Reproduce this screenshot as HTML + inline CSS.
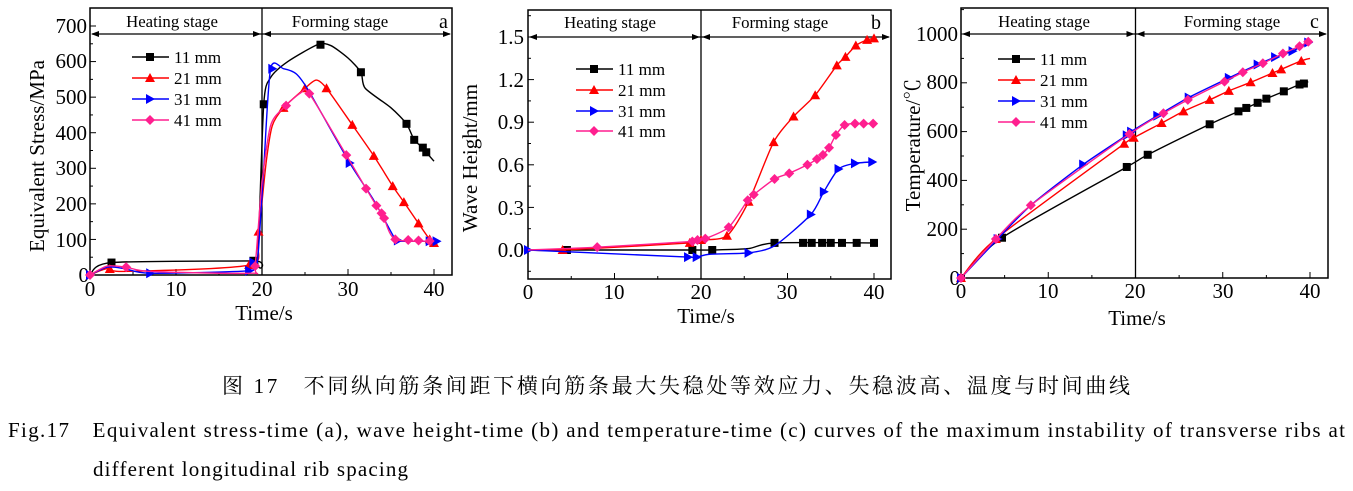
<!DOCTYPE html>
<html><head><meta charset="utf-8"><style>
body{margin:0;background:#fff;width:1353px;height:486px;overflow:hidden}
svg text{font-family:"Liberation Serif","Noto Serif CJK SC",serif}
</style></head><body>
<svg id="s" width="1353" height="486" xmlns="http://www.w3.org/2000/svg">
<g font-size="21" fill="#000">
<text x="90" y="296" text-anchor="middle">0</text><text x="176" y="296" text-anchor="middle">10</text><text x="262" y="296" text-anchor="middle">20</text><text x="348" y="296" text-anchor="middle">30</text><text x="434" y="296" text-anchor="middle">40</text>
<g text-anchor="end"><text x="89" y="282">0</text><text x="87" y="247">100</text><text x="87" y="211">200</text><text x="87" y="175">300</text><text x="87" y="140">400</text><text x="87" y="104">500</text><text x="87" y="68">600</text><text x="87" y="33">700</text></g>
<text x="264" y="320" text-anchor="middle">Time/s</text>
<text transform="translate(44,156) rotate(-90)" text-anchor="middle">Equivalent Stress/MPa</text>
<text x="528" y="299" text-anchor="middle">0</text><text x="614" y="299" text-anchor="middle">10</text><text x="701" y="299" text-anchor="middle">20</text><text x="787" y="299" text-anchor="middle">30</text><text x="874" y="299" text-anchor="middle">40</text>
<g text-anchor="end"><text x="524" y="257">0.0</text><text x="524" y="215">0.3</text><text x="524" y="172">0.6</text><text x="524" y="129">0.9</text><text x="524" y="87">1.2</text><text x="524" y="44">1.5</text></g>
<text x="706" y="323" text-anchor="middle">Time/s</text>
<text transform="translate(477,158) rotate(-90)" text-anchor="middle">Wave Height/mm</text>
<text x="961" y="298" text-anchor="middle">0</text><text x="1048" y="298" text-anchor="middle">10</text><text x="1135" y="298" text-anchor="middle">20</text><text x="1223" y="298" text-anchor="middle">30</text><text x="1310" y="298" text-anchor="middle">40</text>
<g text-anchor="end"><text x="960" y="285">0</text><text x="958" y="236">200</text><text x="958" y="187">400</text><text x="958" y="138">600</text><text x="958" y="89">800</text><text x="958" y="41">1000</text></g>
<text x="1137" y="325" text-anchor="middle">Time/s</text>
<text transform="translate(920,145) rotate(-90)" text-anchor="middle">Temperature/℃</text>
</g>
<g font-size="16.8">
<text x="172" y="27" text-anchor="middle">Heating stage</text><text x="340" y="27" text-anchor="middle">Forming stage</text><text x="439" y="28" font-size="20">a</text>
<text x="610" y="28" text-anchor="middle">Heating stage</text><text x="780" y="28" text-anchor="middle">Forming stage</text><text x="871" y="29" font-size="20">b</text>
<text x="1044" y="27" text-anchor="middle">Heating stage</text><text x="1232" y="27" text-anchor="middle">Forming stage</text><text x="1310" y="28" font-size="20">c</text>
</g>
<g font-size="17">
<text x="174" y="63">11 mm</text><text x="174" y="84">21 mm</text><text x="174" y="105">31 mm</text><text x="174" y="126">41 mm</text>
<text x="618" y="75">11 mm</text><text x="618" y="96">21 mm</text><text x="618" y="117">31 mm</text><text x="618" y="137">41 mm</text>
<text x="1040" y="65">11 mm</text><text x="1040" y="86">21 mm</text><text x="1040" y="107">31 mm</text><text x="1040" y="128">41 mm</text>
</g>
<g font-size="21">
<text x="222" y="393" textLength="908" lengthAdjust="spacing">图 17　不同纵向筋条间距下横向筋条最大失稳处等效应力、失稳波高、温度与时间曲线</text>
<text x="8" y="437" textLength="1337" lengthAdjust="spacing">Fig.17　Equivalent stress-time (a), wave height-time (b) and temperature-time (c) curves of the maximum instability of transverse ribs at</text>
<text x="93" y="476" textLength="315" lengthAdjust="spacing">different longitudinal rib spacing</text>
</g>
</svg>
<script>
const S=document.getElementById('s'),NS='http://www.w3.org/2000/svg';
function el(t,a){const e=document.createElementNS(NS,t);for(const k in a)e.setAttribute(k,a[k]);S.appendChild(e);return e}
const C=['#000','#f00','#00f','#ff1f8f'];
function mk(type,x,y,c){const r=4;
 if(type==0)el('rect',{x:x-r,y:y-r,width:2*r,height:2*r,fill:c});
 else if(type==1)el('polygon',{points:`${x},${y-r-1} ${x-r-1},${y+r} ${x+r+1},${y+r}`,fill:c});
 else if(type==2)el('polygon',{points:`${x+r+1},${y} ${x-r},${y-r-1} ${x-r},${y+r+1}`,fill:c});
 else el('polygon',{points:`${x},${y-r-1} ${x+r+1},${y} ${x},${y+r+1} ${x-r-1},${y}`,fill:c});}
function smooth(p){let d=`M${p[0][0]},${p[0][1]}`;for(let i=0;i<p.length-1;i++){const p0=p[i-1]||p[i],p1=p[i],p2=p[i+1],p3=p[i+2]||p2;
 const k=8;d+=` C${p1[0]+(p2[0]-p0[0])/k},${p1[1]+(p2[1]-p0[1])/k} ${p2[0]-(p3[0]-p1[0])/k},${p2[1]-(p3[1]-p1[1])/k} ${p2[0]},${p2[1]}`;}return d}
function chart(o){
 const X=t=>o.x0+t*o.sx,Y=v=>o.y0-v*o.sy;
 el('rect',{x:o.L,y:o.T,width:o.R-o.L,height:o.B-o.T,fill:'none',stroke:'#000','stroke-width':1.5});
 const dx=X(20);el('line',{x1:dx,y1:o.T,x2:dx,y2:o.B,stroke:'#000','stroke-width':1.3});
 el('line',{x1:o.L+2,y1:o.ay,x2:o.R-2,y2:o.ay,stroke:'#000','stroke-width':1.2});
 [[o.L+1,1],[dx-1,-1],[dx+1,1],[o.R-1,-1]].forEach(([x,d])=>el('polygon',{points:`${x},${o.ay} ${x+8*d},${o.ay-3} ${x+8*d},${o.ay+3}`}));
 for(let t=0;t<=40;t+=5){const x=X(t),l=t%10?3:6;el('line',{x1:x,y1:o.B,x2:x,y2:o.B-l,stroke:'#000'});}
 for(let v=o.ymin;v<=o.ymax+1e-9;v+=o.ystep/2){const y=Y(v);if(y<o.T||y>o.B)continue;const l=Math.abs(Math.round(v/o.ystep)*o.ystep-v)<1e-9?6:3;el('line',{x1:o.L,y1:y,x2:o.L+l,y2:y,stroke:'#000'});}
 o.data.forEach((d,i)=>{const pts=d.l.map(p=>[X(p[0]),Y(p[1])]);el('path',{d:smooth(pts),fill:'none',stroke:C[i],'stroke-width':1.4});
  d.m.forEach(p=>mk(i,X(p[0]),Y(p[1]),C[i]));
  const ly=o.leg[i];el('line',{x1:o.lx,y1:ly,x2:o.lx+37,y2:ly,stroke:C[i],'stroke-width':1.4});mk(i,o.lx+18,ly,C[i]);});
}
const pick=(l,ts)=>ts.map(t=>{for(let i=0;i<l.length-1;i++)if(t>=l[i][0]&&t<=l[i+1][0]){const f=(t-l[i][0])/((l[i+1][0]-l[i][0])||1);return[t,l[i][1]+f*(l[i+1][1]-l[i][1])]}return l[l.length-1]});
function D(l,ts){return{l,m:ts?pick(l,ts):l.slice(1)}}
let a1=[[0,0],[2.5,35],[19,40],[19.5,45],[20.2,480],[21,555],[23,600],[26.5,648],[28,645],[30,610],[31.5,570],[32,525],[35,470],[36.8,425],[37.7,380],[38.7,358],[39.1,345],[40,320]];
let a2=[[0,0],[2,18],[4,10],[18.5,28],[19.5,100],[20.5,320],[21.2,420],[22.5,470],[25,525],[26.3,548],[27.5,525],[30.5,422],[33,335],[35.2,250],[36.5,205],[38.2,145],[39.5,100],[40,90]];
let a3=[[0,0],[2,22],[4,18],[7,5],[18.5,12],[19,35],[19.5,45],[20.2,300],[21,580],[22.5,580],[24,565],[25.5,515],[30.2,315],[33,210],[35.5,100],[36,95],[40.5,95]];
let a4=[[0,0],[2,25],[4.2,22],[7,10],[18.7,5],[19.2,25],[20,260],[21,420],[22.5,470],[24.5,512],[25.5,510],[29.8,337],[32.1,243],[33.3,195],[34,170],[34.2,160],[35.5,100],[40,95]];
chart({L:90,R:452,T:8,B:275,x0:90,sx:8.6,y0:275,sy:0.3557,ymin:0,ymax:700,ystep:100,ay:34,lx:132,leg:[57,78,99,120],
 data:[D(a1,[2.5,19,20.2,26.8,31.5,36.8,37.7,38.7,39.1]),D(a2,[2.3,18.5,19.6,22.5,25,27.5,30.5,33,35.2,36.5,38.2,39.5,40]),D(a3,[0,7,18.5,19,21.2,30.2,35.8,39.5,40.3]),D(a4,[0,4.2,19.2,22.8,25.5,29.8,32.1,33.3,33.9,34.2,35.5,37,38.2,39.5])]});
let b1=[[0,0],[4.5,0],[19,0],[21.3,0],[25.5,0.01],[28.5,0.05],[40,0.05]];
let b2=[[0,0],[4,0],[18.7,0.05],[20,0.07],[23,0.1],[25.5,0.34],[28.4,0.76],[30.7,0.94],[33.2,1.09],[35.7,1.3],[36.7,1.36],[37.9,1.44],[39.2,1.48],[40,1.49]];
let b3=[[0,0],[18.5,-0.05],[19.5,-0.05],[21,-0.03],[25.5,-0.02],[28.5,0.03],[32.7,0.25],[34.2,0.41],[35.9,0.57],[37.8,0.61],[39.8,0.62]];
let b4=[[0,0],[8,0.02],[19,0.06],[19.6,0.07],[20.5,0.08],[23.2,0.16],[25.4,0.35],[26.1,0.39],[28.5,0.5],[30.2,0.54],[32.3,0.6],[33.4,0.64],[34.1,0.67],[34.8,0.72],[35.6,0.81],[36.6,0.88],[37.8,0.89],[38.8,0.89],[39.9,0.89]];
chart({L:528,R:891,T:10,B:279,x0:528,sx:8.65,y0:250,sy:142,ymin:-0.15,ymax:1.65,ystep:0.3,ay:37,lx:576,leg:[69,90,111,131],
 data:[D(b1,[4.5,19,21.3,28.5,31.8,32.8,34,35,36.3,38,40]),D(b2),D(b3,[0,18.5,19.5,25.5,32.7,34.2,35.9,37.8,39.8]),D(b4)]});
let c1=[[0,0],[4.7,165],[19,455],[21.4,505],[28.5,630],[31.8,683],[32.7,697],[34,718],[35,735],[37,765],[38.8,793],[39.3,797],[39.8,805]];
let c2=[[0,0],[4,160],[18.7,550],[19.8,575],[23,635],[25.5,683],[28.5,730],[30.7,767],[33.2,802],[35.7,840],[36.7,855],[39,890],[40,900]];
let c3=[[0,0],[4.2,160],[8,298],[14,465],[19,585],[19.5,600],[22.5,665],[26.1,740],[30.7,820],[34,875],[36,905],[38,930],[39.8,965]];
let c4=[[0,0],[4,160],[8,298],[19.3,590],[23.2,675],[26,730],[30.2,805],[32.3,843],[34.6,880],[36.9,920],[38.8,950],[39.8,968]];
chart({L:961,R:1328,T:8,B:278,x0:961,sx:8.725,y0:278,sy:0.244,ymin:0,ymax:1100,ystep:200,ay:34,lx:998,leg:[59,80,101,122],
 data:[D(c1,[0,4.7,19,21.4,28.5,31.8,32.7,34,35,37,38.8,39.3]),D(c2,[0,4,18.7,19.8,23,25.5,28.5,30.7,33.2,35.7,36.7,39]),D(c3,[0,4.2,14,19,19.5,22.5,26.1,30.7,34,36,38,39.8]),D(c4,[0,4,8,19.3,23.2,26,30.2,32.3,34.6,36.9,38.8,39.8])]});
</script>
</body></html>
